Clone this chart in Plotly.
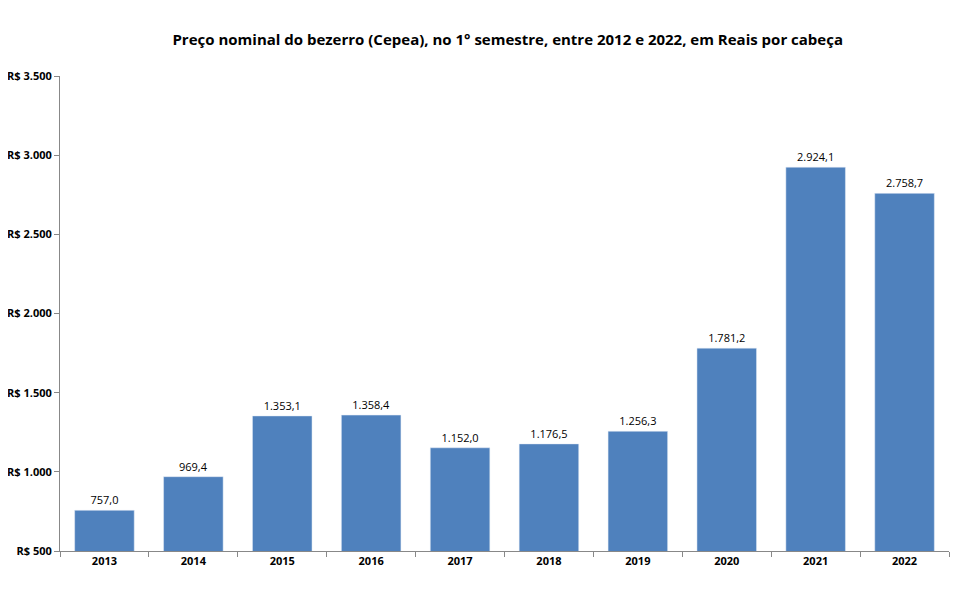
import plotly.graph_objects as go

years = ["2013","2014","2015","2016","2017","2018","2019","2020","2021","2022"]
values = [757.0, 969.4, 1353.1, 1358.4, 1152.0, 1176.5, 1256.3, 1781.2, 2924.1, 2758.7]

fig = go.Figure(go.Bar(
    x=years, y=values, marker_color="#4F81BD", width=0.67,
    text=values, texttemplate="%{y:,.1f}", textposition="outside",
    textfont=dict(size=11, color="black"), cliponaxis=False,
))
fig.update_layout(
    width=961, height=594, separators=",.",
    paper_bgcolor="white", plot_bgcolor="white",
    margin=dict(l=52, r=20, t=68, b=51, autoexpand=False),
    font=dict(family="Open Sans", color="black"),
    title=dict(text="<b>Preço nominal do bezerro (Cepea), no 1° semestre, entre 2012 e 2022, em Reais por cabeça</b>",
               x=0.52, xanchor="center", y=0.955, font=dict(size=15)),
    showlegend=False,
)
fig.update_xaxes(showline=True, linecolor="#888", ticks="outside", tickson="boundaries",
                 tickcolor="#888", ticklen=5, tickfont=dict(size=11, family="Open Sans"),
                 tickprefix="<b>", ticksuffix="</b>")
fig.update_yaxes(range=[500, 3500], dtick=500, tickprefix="<b>R$ ", ticksuffix="</b>", tickformat=",d",
                 showline=True, linecolor="#888", ticks="outside", tickcolor="#888", ticklen=5,
                 showgrid=False, zeroline=False, tickfont=dict(size=11))
fig.write_html("out.html")
